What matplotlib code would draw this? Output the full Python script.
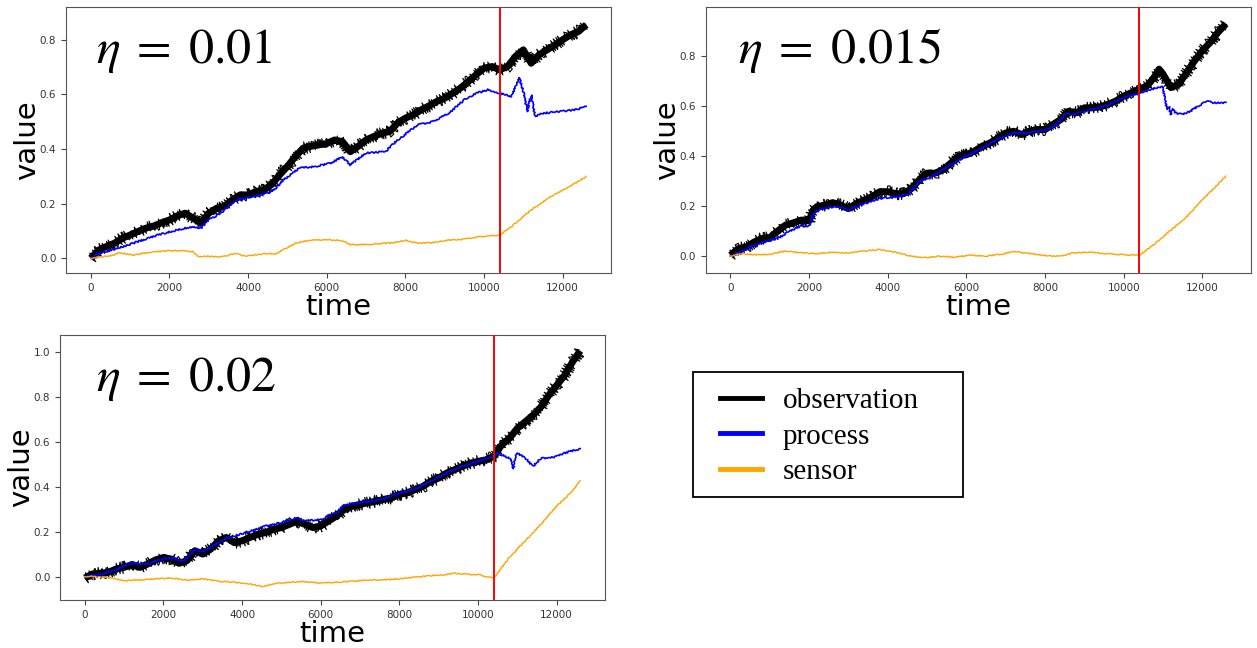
import matplotlib
matplotlib.use("Agg")
import matplotlib.pyplot as plt
from matplotlib.lines import Line2D
from matplotlib.patches import Rectangle

plt.rcParams['mathtext.fontset'] = 'stix'

# ---------------- data ----------------
grid_t = list(range(0, 12601, 200))

# panel 1 : eta = 0.01
p1_obs = [0.0, 0.03, 0.043, 0.055, 0.073, 0.085, 0.098, 0.11, 0.118, 0.13,
          0.14, 0.155, 0.165, 0.147, 0.128, 0.165, 0.183, 0.19, 0.214, 0.232,
          0.232, 0.244, 0.25, 0.27, 0.305, 0.336, 0.372, 0.403, 0.41, 0.415,
          0.42, 0.433, 0.427, 0.39, 0.41, 0.433, 0.446, 0.458, 0.464, 0.495,
          0.513, 0.525, 0.543, 0.558, 0.574, 0.586, 0.604, 0.623, 0.647, 0.672,
          0.696, 0.702, 0.69, 0.702, 0.739, 0.763, 0.714, 0.745, 0.763, 0.781,
          0.8, 0.818, 0.83, 0.855]
p1_proc_t = [0, 200, 700, 1200, 1700, 2200, 2600, 2800, 3000, 3300, 3700, 4100,
             4500, 4700, 4900, 5300, 5700, 6100, 6400, 6600, 7000, 7500, 7700,
             8300, 8700, 9100, 9500, 9800, 10100, 10400, 10700, 10900, 11000,
             11100, 11200, 11300, 11500, 11900, 12300, 12600]
p1_proc = [0.0, 0.018, 0.037, 0.061, 0.085, 0.104, 0.116, 0.11, 0.14, 0.165,
           0.214, 0.226, 0.238, 0.256, 0.287, 0.33, 0.336, 0.348, 0.372, 0.342,
           0.385, 0.39, 0.42, 0.488, 0.5, 0.531, 0.58, 0.604, 0.617, 0.604,
           0.592, 0.66, 0.61, 0.537, 0.598, 0.519, 0.531, 0.537, 0.543, 0.555]
p1_sens_t = [0, 300, 600, 700, 1100, 1500, 2000, 2400, 2600, 2750, 2900, 3300,
             3700, 3900, 4500, 4700, 5200, 5600, 6100, 6400, 6600, 7100, 7700,
             8000, 8300, 8700, 9000, 9500, 9900, 10400, 10700, 11200, 11700,
             12100, 12600]
p1_sens = [0.0, 0.006, 0.012, 0.02, 0.012, 0.022, 0.028, 0.028, 0.024, 0.006,
           0.008, 0.004, 0.018, 0.008, 0.018, 0.016, 0.055, 0.067, 0.067, 0.065,
           0.049, 0.051, 0.057, 0.065, 0.055, 0.057, 0.065, 0.07, 0.079, 0.085,
           0.116, 0.177, 0.226, 0.256, 0.299]

# panel 2 : eta = 0.015
p2_obs_t = [0, 200, 400, 600, 800, 1000, 1200, 1400, 1600, 1800, 2000, 2100,
            2200, 2400, 2600, 2800, 3000, 3200, 3400, 3600, 3800, 4000, 4200,
            4400, 4600, 4800, 5000, 5200, 5400, 5600, 5800, 6000, 6200, 6400,
            6600, 6800, 7000, 7200, 7400, 7600, 7800, 8000, 8200, 8400, 8600,
            8800, 9000, 9200, 9400, 9600, 9800, 10000, 10200, 10400, 10600,
            10800, 10900, 11000, 11200, 11400, 11600, 11800, 12000, 12200,
            12400, 12600]
p2_obs = [0.003, 0.03, 0.036, 0.056, 0.07, 0.074, 0.1, 0.124, 0.133, 0.144,
          0.141, 0.184, 0.198, 0.204, 0.214, 0.204, 0.19, 0.21, 0.224, 0.238,
          0.258, 0.258, 0.25, 0.25, 0.27, 0.305, 0.332, 0.332, 0.345, 0.372,
          0.4, 0.406, 0.42, 0.44, 0.453, 0.473, 0.493, 0.5, 0.487, 0.5, 0.507,
          0.507, 0.527, 0.547, 0.58, 0.574, 0.594, 0.594, 0.598, 0.608, 0.621,
          0.641, 0.655, 0.668, 0.682, 0.722, 0.749, 0.729, 0.675, 0.688, 0.735,
          0.782, 0.823, 0.856, 0.897, 0.93]
p2_proc_t = [0, 300, 600, 1000, 1200, 1500, 1800, 2000, 2100, 2300, 2700, 3000,
             3400, 3800, 4200, 4500, 4800, 5200, 5600, 6000, 6400, 6800, 7200,
             7600, 8000, 8300, 8500, 8800, 9200, 9600, 10000, 10400, 10600,
             10900, 10980, 11100, 11150, 11200, 11250, 11300, 11500, 11700,
             11900, 12100, 12300, 12600]
p2_proc = [0.0, 0.02, 0.043, 0.063, 0.07, 0.1, 0.12, 0.12, 0.17, 0.19, 0.198,
           0.184, 0.211, 0.231, 0.238, 0.245, 0.298, 0.325, 0.366, 0.4, 0.433,
           0.467, 0.493, 0.493, 0.504, 0.527, 0.567, 0.571, 0.588, 0.604, 0.635,
           0.652, 0.665, 0.675, 0.682, 0.588, 0.6, 0.567, 0.59, 0.574, 0.567,
           0.581, 0.601, 0.621, 0.614, 0.614]
p2_sens_t = [0, 300, 600, 1000, 1400, 1800, 2200, 2600, 3000, 3400, 3800, 4200,
             4500, 4900, 5300, 5700, 6100, 6500, 6900, 7200, 7600, 8100, 8400,
             8700, 9100, 9500, 10000, 10400, 10800, 11200, 11600, 12000, 12300,
             12600]
p2_sens = [0.0, 0.01, 0.005, 0.007, 0.02, 0.013, 0.01, 0.016, 0.012, 0.02,
           0.026, 0.016, 0.003, -0.007, -0.001, -0.004, 0.003, 0.0, 0.007,
           0.019, 0.01, 0.0, -0.001, 0.012, 0.016, 0.01, 0.005, 0.003, 0.05,
           0.104, 0.157, 0.225, 0.272, 0.319]

# panel 3 : eta = 0.02
p3_obs = [-0.006, 0.012, 0.015, 0.019, 0.034, 0.041, 0.053, 0.041, 0.056,
          0.074, 0.085, 0.078, 0.059, 0.071, 0.115, 0.1, 0.122, 0.159, 0.174,
          0.151, 0.159, 0.174, 0.188, 0.196, 0.21, 0.218, 0.232, 0.247, 0.232,
          0.218, 0.225, 0.247, 0.269, 0.299, 0.313, 0.321, 0.328, 0.335, 0.343,
          0.35, 0.365, 0.372, 0.387, 0.401, 0.424, 0.438, 0.46, 0.475, 0.49,
          0.504, 0.512, 0.519, 0.534, 0.585, 0.615, 0.659, 0.688, 0.718, 0.754,
          0.806, 0.85, 0.894, 0.953, 1.004]
p3_proc_t = [0, 400, 800, 1000, 1200, 1600, 2000, 2200, 2500, 2800, 3000, 3300,
             3600, 4000, 4600, 5000, 5400, 5600, 6000, 6400, 6600, 7000, 7600,
             8000, 8400, 8800, 9200, 9600, 10000, 10400, 10500, 10700, 10850,
             10900, 10950, 11000, 11200, 11400, 11600, 11800, 12000, 12200,
             12400, 12600]
p3_proc = [0.0, 0.01, 0.03, 0.05, 0.06, 0.055, 0.08, 0.085, 0.07, 0.12, 0.11,
           0.14, 0.17, 0.191, 0.225, 0.24, 0.262, 0.247, 0.254, 0.284, 0.32,
           0.328, 0.345, 0.37, 0.39, 0.425, 0.46, 0.49, 0.512, 0.534, 0.549,
           0.534, 0.52, 0.48, 0.53, 0.549, 0.526, 0.49, 0.526, 0.526, 0.534,
           0.549, 0.559, 0.568]
p3_sens_t = [0, 200, 600, 1000, 1400, 1800, 2200, 2600, 3000, 3400, 3800, 4200,
             4500, 4800, 5200, 5600, 6000, 6400, 6800, 7200, 7600, 8000, 8400,
             8800, 9200, 9400, 9800, 10000, 10200, 10400, 10800, 11200, 11600,
             12000, 12400, 12600]
p3_sens = [0.0, 0.0, -0.003, -0.018, -0.015, -0.01, -0.006, -0.015, -0.01,
           -0.021, -0.025, -0.032, -0.044, -0.032, -0.025, -0.022, -0.029,
           -0.025, -0.021, -0.015, -0.015, -0.01, -0.003, 0.004, 0.009, 0.015,
           0.009, 0.009, 0.0, -0.006, 0.085, 0.159, 0.232, 0.313, 0.379, 0.426]

change_time = 10400
eta_labels = [r'$\eta\;=\;0.01$', r'$\eta\;=\;0.015$', r'$\eta\;=\;0.02$']
legend_labels = ['observation', 'process', 'sensor']
x_ticks = [0, 2000, 4000, 6000, 8000, 10000, 12000]

W, H = 1257, 648
panels = [
    dict(obs_t=grid_t, obs=p1_obs, proc_t=p1_proc_t, proc=p1_proc,
         sens_t=p1_sens_t, sens=p1_sens, ylim=(-0.054, 0.92),
         yticks=[0.0, 0.2, 0.4, 0.6, 0.8], label=eta_labels[0],
         pos=[66/W, 1-273/H, 545/W, 266/H], tx=0.055),
    dict(obs_t=p2_obs_t, obs=p2_obs, proc_t=p2_proc_t, proc=p2_proc,
         sens_t=p2_sens_t, sens=p2_sens, ylim=(-0.068, 0.998),
         yticks=[0.0, 0.2, 0.4, 0.6, 0.8], label=eta_labels[1],
         pos=[705.7/W, 1-273/H, 545/W, 266/H], tx=0.06),
    dict(obs_t=grid_t, obs=p3_obs, proc_t=p3_proc_t, proc=p3_proc,
         sens_t=p3_sens_t, sens=p3_sens, ylim=(-0.104, 1.074),
         yticks=[0.0, 0.2, 0.4, 0.6, 0.8, 1.0], label=eta_labels[2],
         pos=[60/W, 1-600/H, 545/W, 265/H], tx=0.066),
]

C_OBS, C_PROC, C_SENS, C_RED = 'black', '#0000ff', '#ffa500', '#ff0000'

fig = plt.figure(figsize=(12.57, 6.48), dpi=100)
fig.patch.set_facecolor('white')

for p in panels:
    ax = fig.add_axes(p['pos'])
    l_obs, = ax.plot(p['obs_t'], p['obs'], color=C_OBS, lw=0.8, zorder=2)
    l_obs.set_sketch_params(scale=6.0, length=1.5, randomness=3)
    l_obs2, = ax.plot(p['obs_t'], p['obs'], color=C_OBS, lw=5.0, zorder=2,
                      solid_capstyle='butt')
    l_proc, = ax.plot(p['proc_t'], p['proc'], color=C_PROC, lw=1.2, zorder=3)
    l_proc.set_sketch_params(scale=0.8, length=3, randomness=3)
    l_sens, = ax.plot(p['sens_t'], p['sens'], color=C_SENS, lw=1.0, zorder=3)
    l_sens.set_sketch_params(scale=0.5, length=3, randomness=3)
    ax.axvline(change_time, color=C_RED, lw=1.4, zorder=4)
    ax.set_xlim(-630, 13230)
    ax.set_ylim(*p['ylim'])
    ax.set_xticks(x_ticks)
    ax.set_yticks(p['yticks'])
    ax.tick_params(labelsize=7.5, colors='#444444', labelcolor='#333333')
    for s in ax.spines.values():
        s.set_color('#555555')
    ax.set_xlabel('time', fontsize=21, labelpad=0)
    ax.set_ylabel('value', fontsize=21, labelpad=-1)
    ax.text(p['tx'], 0.79, p['label'], transform=ax.transAxes, fontsize=36,
            va='baseline', ha='left')

# legend box
fig.patches.append(Rectangle((693/W, 1-497/H), 270/W, 125/H,
                             transform=fig.transFigure, fill=False,
                             edgecolor='black', lw=1.3))
handles = [Line2D([], [], color=c, lw=3.5) for c in (C_OBS, C_PROC, C_SENS)]
fig.legend(handles, legend_labels, loc='upper left',
           bbox_to_anchor=(720/W, 1-388/H), frameon=False,
           prop={'family': 'Liberation Serif', 'size': 21},
           handlelength=1.44, handletextpad=0.72, labelspacing=0.3,
           borderpad=0, borderaxespad=0)

fig.savefig('out.png', dpi=100, facecolor='white')
